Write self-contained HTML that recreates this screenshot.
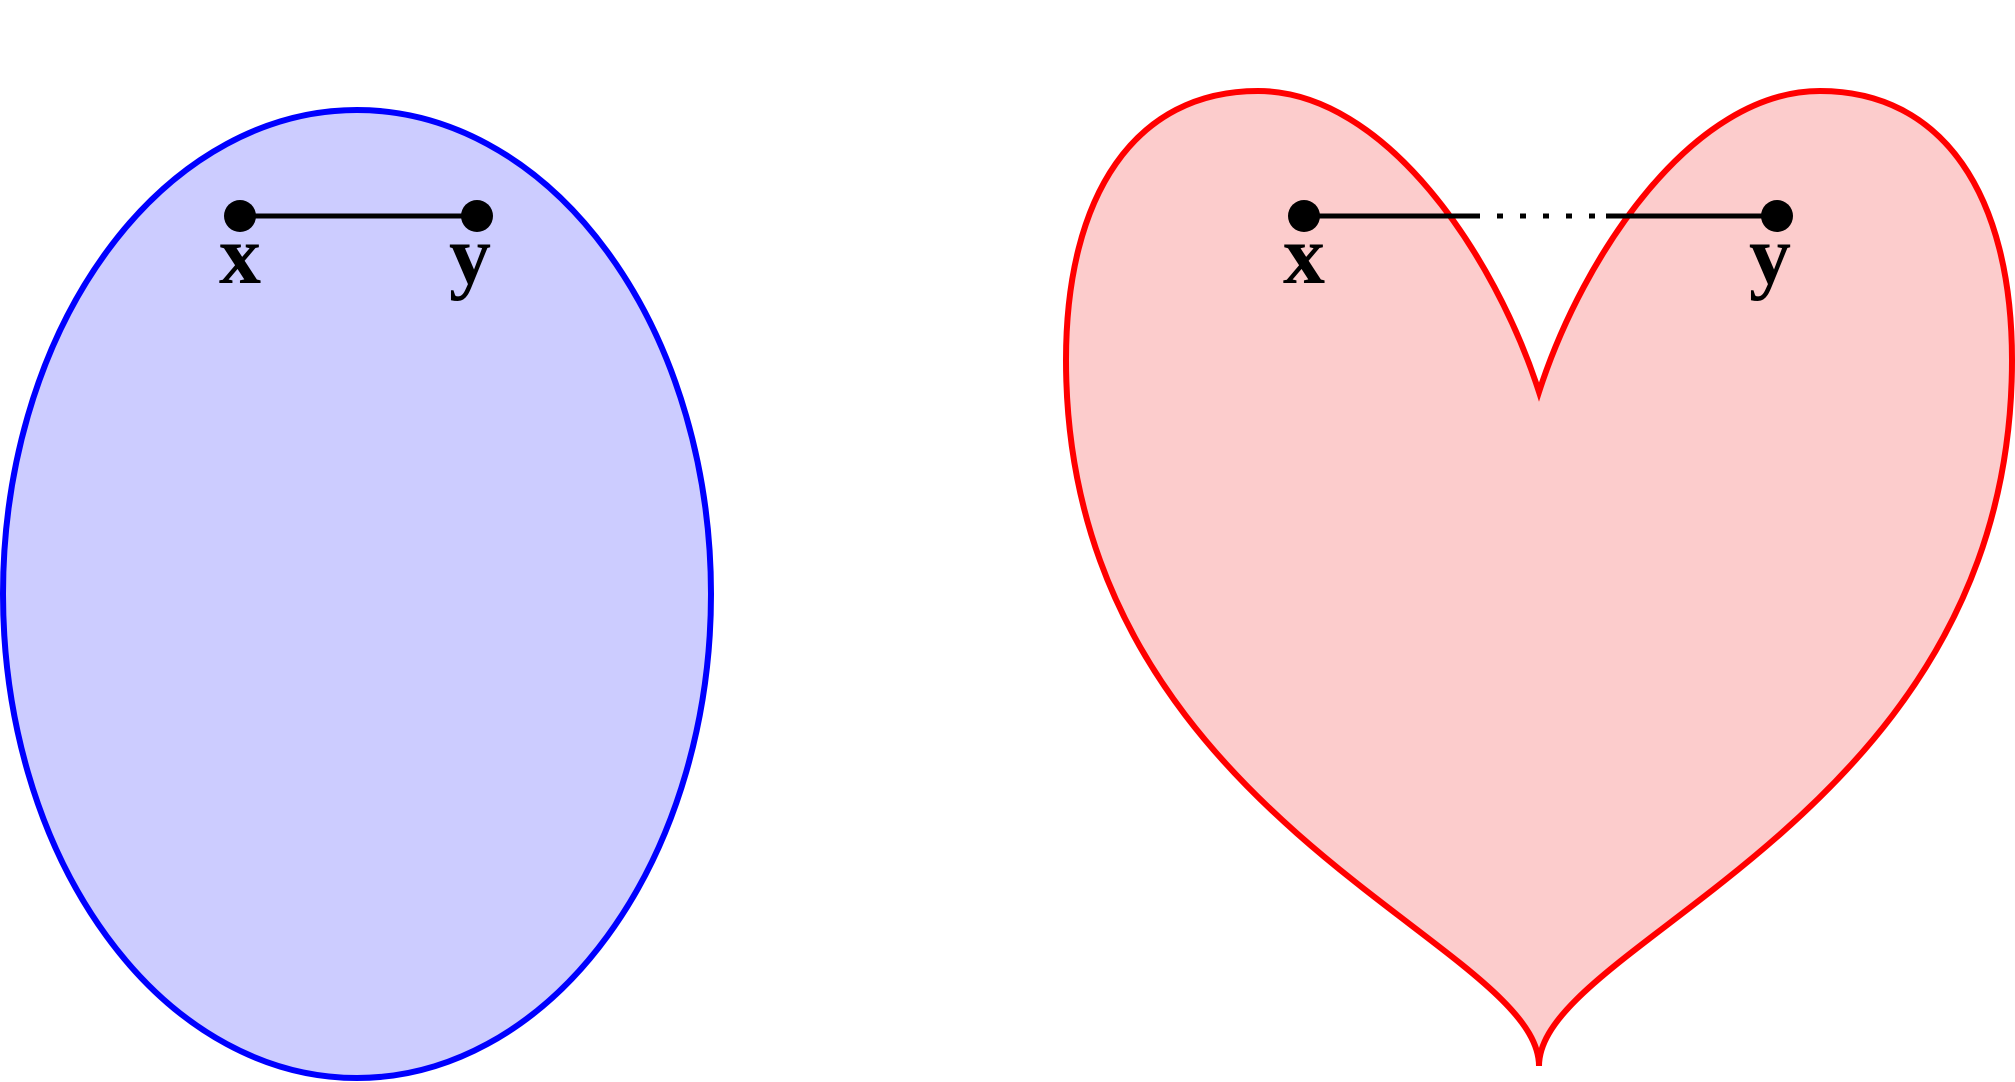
<!DOCTYPE html>
<html><head><meta charset="utf-8"><style>
html,body{margin:0;padding:0;background:#fff;}
svg{display:block;}
text{font-family:"Liberation Serif",serif;font-weight:bold;font-size:84px;}
</style></head><body>
<svg width="2015" height="1082" viewBox="0 0 2015 1082">
  <g>
    <ellipse cx="357" cy="594" rx="354" ry="484" fill="#ccccff" stroke="#0000ff" stroke-width="6"/>
    <line x1="240" y1="216" x2="477" y2="216" stroke="#000" stroke-width="5"/>
    <circle cx="240" cy="216" r="16" fill="#000"/>
    <circle cx="477" cy="216" r="16" fill="#000"/>
    <text x="240" y="283" text-anchor="middle">x</text>
    <text x="470" y="283" text-anchor="middle">y</text>
  </g>
  <g>
    <path d="M1539,392 C1495,255 1385,91 1258,91 C1135,91 1066,195 1066,360 C1066,820 1539,940 1539,1066 C1539,940 2012,820 2012,360 C2012,195 1943,91 1820,91 C1693,91 1583,255 1539,392 Z" fill="#fccccc" stroke="#ff0000" stroke-width="6" stroke-linejoin="miter"/>
    <line x1="1304" y1="216" x2="1474" y2="216" stroke="#000" stroke-width="5"/>
    <line x1="1474" y1="216" x2="1610" y2="216" stroke="#000" stroke-width="5" stroke-dasharray="6,17"/>
    <line x1="1606" y1="216" x2="1777" y2="216" stroke="#000" stroke-width="5"/>
    <circle cx="1304" cy="216" r="16" fill="#000"/>
    <circle cx="1777" cy="216" r="16" fill="#000"/>
    <text x="1304" y="283" text-anchor="middle">x</text>
    <text x="1770" y="283" text-anchor="middle">y</text>
  </g>
</svg>
</body></html>
